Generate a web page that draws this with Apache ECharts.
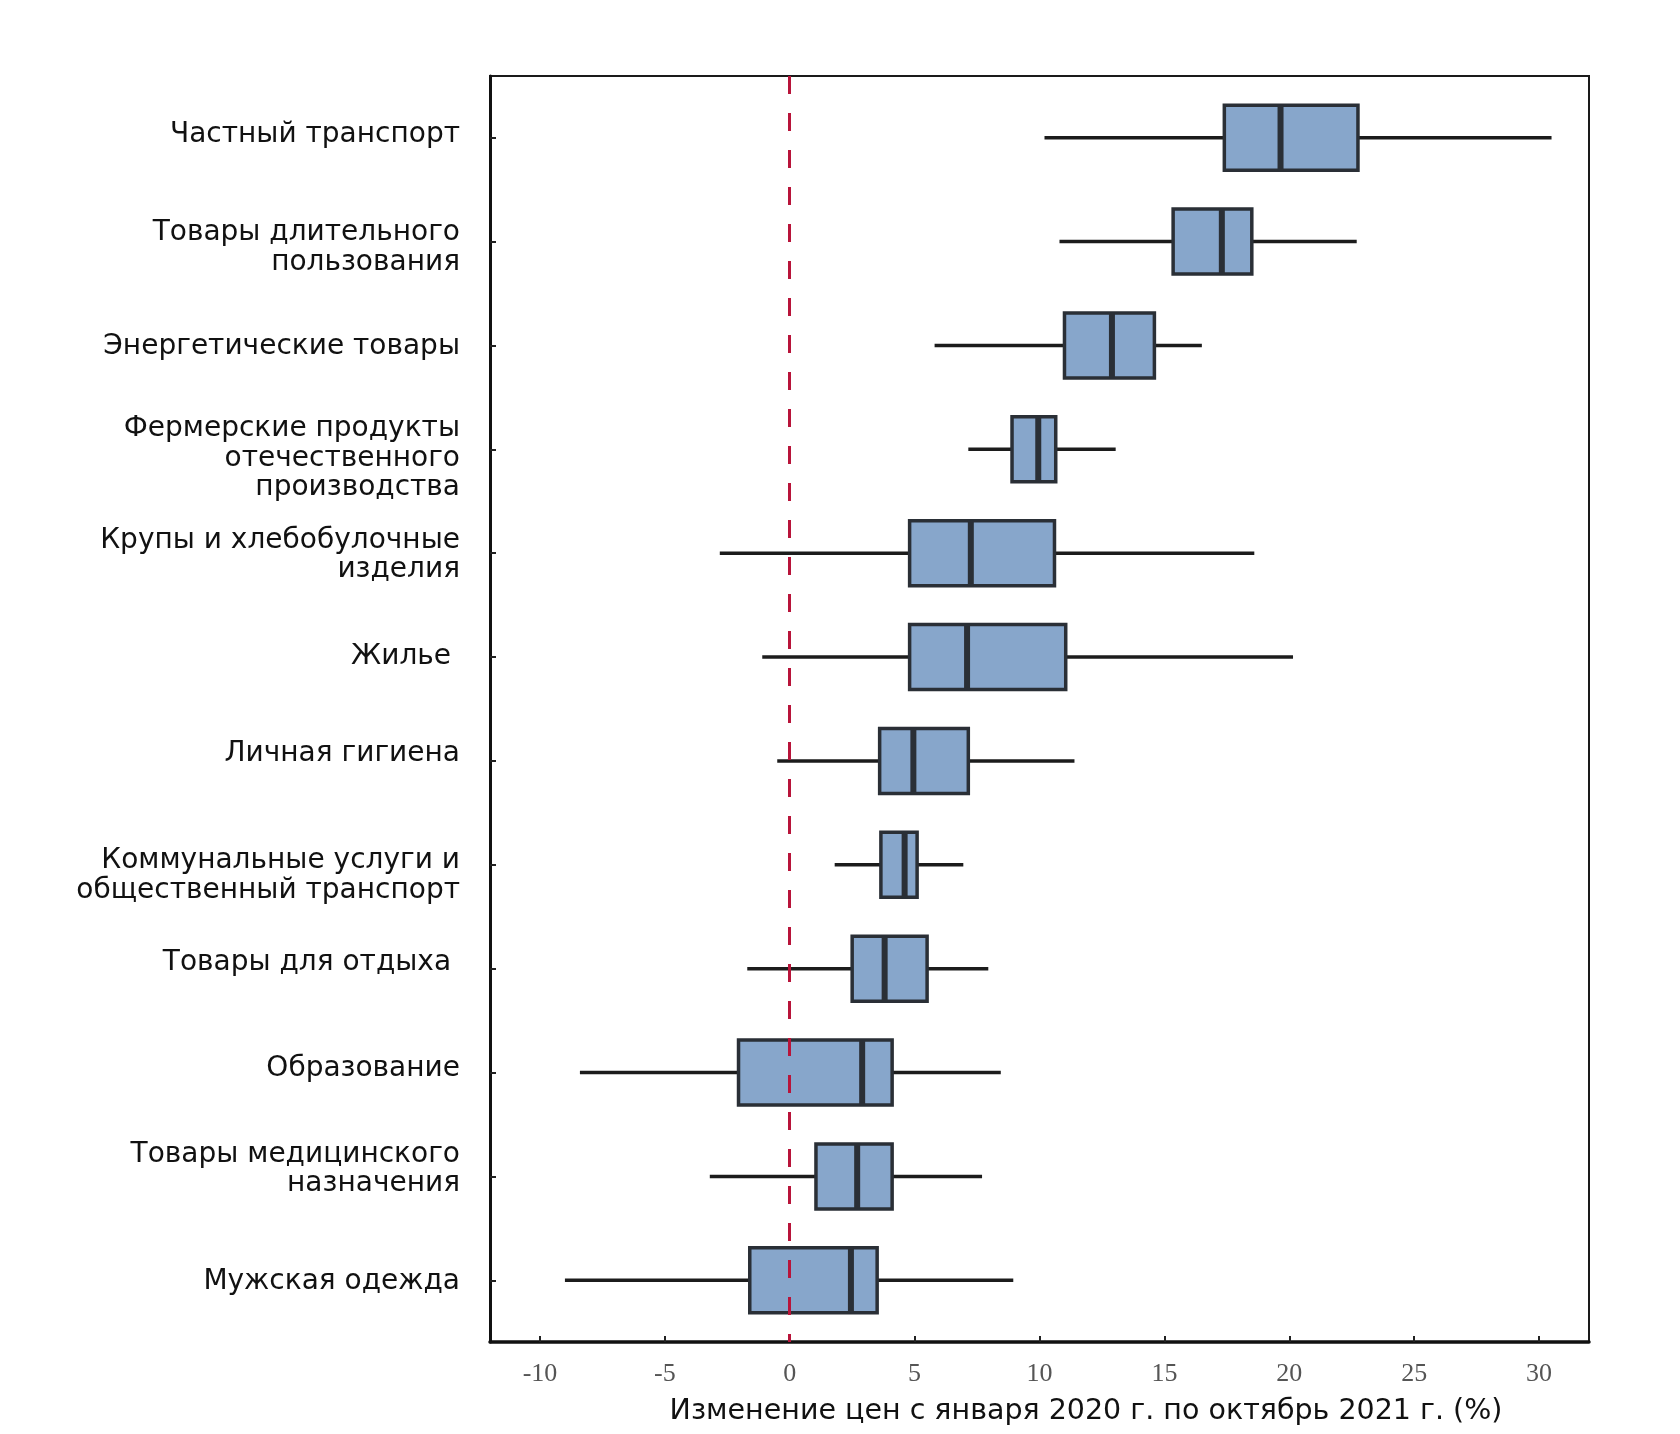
<!DOCTYPE html>
<html>
<head>
<meta charset="utf-8">
<script src="https://cdn.jsdelivr.net/npm/echarts@6/dist/echarts.min.js"></script>
<style>
html,body{margin:0;padding:0;background:#fff;}
#chart{width:1680px;height:1434px;}
</style>
</head>
<body>
<div id="chart"></div>
<script>
// Categories (top to bottom)
const categories = [
  'Частный транспорт',
  'Товары длительного\nпользования',
  'Энергетические товары',
  'Фермерские продукты\nотечественного\nпроизводства',
  'Крупы и хлебобулочные\nизделия',
  'Жилье ',
  'Личная гигиена',
  'Коммунальные услуги и\nобщественный транспорт',
  'Товары для отдыха ',
  'Образование',
  'Товары медицинского\nназначения',
  'Мужская одежда'
];
// Box statistics, % price change
const lowValues    = [10.2, 10.8, 5.8, 7.15, -2.8, -1.1, -0.5, 1.8, -1.7, -8.4, -3.2, -9.0];
const q1Values     = [17.4, 15.35, 11.0, 8.9, 4.8, 4.8, 3.6, 3.65, 2.5, -2.05, 1.05, -1.6];
const medianValues = [19.65, 17.3, 12.9, 9.95, 7.25, 7.1, 4.95, 4.6, 3.8, 2.9, 2.7, 2.45];
const q3Values     = [22.75, 18.5, 14.6, 10.65, 10.6, 11.05, 7.15, 5.1, 5.5, 4.1, 4.1, 3.5];
const highValues   = [30.5, 22.7, 16.5, 13.05, 18.6, 20.15, 11.4, 6.95, 7.95, 8.45, 7.7, 8.95];
// Axis tick labels
const xTicks = [-10, -5, 0, 5, 10, 15, 20, 25, 30];
const yTicks = categories.map((c, i) => i);

// Layout styling: vertical nudge (px) of each category label, as in the original typesetting
const labelNudgePx = [-3, 6, 1, 9, 2, 0, -7, 11, -6, -4, -7, 1];
const ROW_PX = 103.85;

const boxData = categories.map((c, i) => [i, lowValues[i], q1Values[i], medianValues[i], q3Values[i], highValues[i]]);
const labelPositions = yTicks.map((t, i) => t + labelNudgePx[i] / ROW_PX);

const chart = echarts.init(document.getElementById('chart'), null, {renderer: 'canvas'});

const option = {
  backgroundColor: '#ffffff',
  animation: false,
  grid: {
    left: 490, right: 91, top: 76, bottom: 92,
    outerBoundsMode: 'none',
    containLabel: false,
    show: true, borderColor: '#1a1a1a', borderWidth: 2, backgroundColor: 'transparent'
  },
  xAxis: {
    type: 'value', min: -12, max: 32,
    position: 'bottom',
    axisLine: {show: true, onZero: false, lineStyle: {color: '#111', width: 3.5}},
    axisTick: {show: true, inside: true, length: 6, customValues: xTicks, lineStyle: {color: '#222', width: 2}},
    axisLabel: {customValues: xTicks, margin: 19, fontFamily: 'Liberation Serif', fontSize: 26, color: '#555'},
    splitLine: {show: false},
    name: 'Изменение цен с января 2020 г. по октябрь 2021 г. (%)',
    nameLocation: 'middle', nameGap: 55,
    nameTextStyle: {fontFamily: 'DejaVu Sans', fontSize: 28.5, color: '#111', padding: [0, 0, 0, 93]}
  },
  yAxis: {
    type: 'value', inverse: true, min: -0.594, max: 11.594,
    axisLine: {show: true, onZero: false, lineStyle: {color: '#111', width: 3}},
    axisTick: {show: true, inside: true, length: 6, customValues: yTicks, lineStyle: {color: '#222', width: 2}},
    axisLabel: {
      customValues: labelPositions, margin: 30,
      formatter: v => categories[Math.round(v)] || '',
      fontFamily: 'DejaVu Sans', fontSize: 28, lineHeight: 29.5, color: '#111', align: 'right'
    },
    splitLine: {show: false}
  },
  series: [{
    type: 'custom',
    data: boxData,
    encode: {x: [1, 2, 3, 4, 5], y: 0},
    renderItem: function (params, api) {
      const y = api.value(0);
      const pLow = api.coord([api.value(1), y]);
      const pQ1 = api.coord([api.value(2), y]);
      const pMed = api.coord([api.value(3), y]);
      const pQ3 = api.coord([api.value(4), y]);
      const pHigh = api.coord([api.value(5), y]);
      const h = api.size([0, 1])[1] * 0.626;
      return {
        type: 'group',
        children: [
          {type: 'line', shape: {x1: pLow[0], y1: pLow[1], x2: pHigh[0], y2: pHigh[1]},
           style: {stroke: '#1c1c1c', lineWidth: 3.5}},
          {type: 'rect', shape: {x: pQ1[0], y: pQ1[1] - h / 2, width: pQ3[0] - pQ1[0], height: h},
           style: {fill: '#87a6cb', stroke: '#2a2f36', lineWidth: 3.5}},
          {type: 'line', shape: {x1: pMed[0], y1: pMed[1] - h / 2, x2: pMed[0], y2: pMed[1] + h / 2},
           style: {stroke: '#2a2f36', lineWidth: 6}}
        ]
      };
    },
    markLine: {
      silent: true, symbol: ['none', 'none'], label: {show: false},
      lineStyle: {color: '#b8143a', width: 3, type: [18, 19]},
      data: [{xAxis: 0}]
    },
    z: 2
  }]
};
chart.setOption(option);
</script>
</body>
</html>
